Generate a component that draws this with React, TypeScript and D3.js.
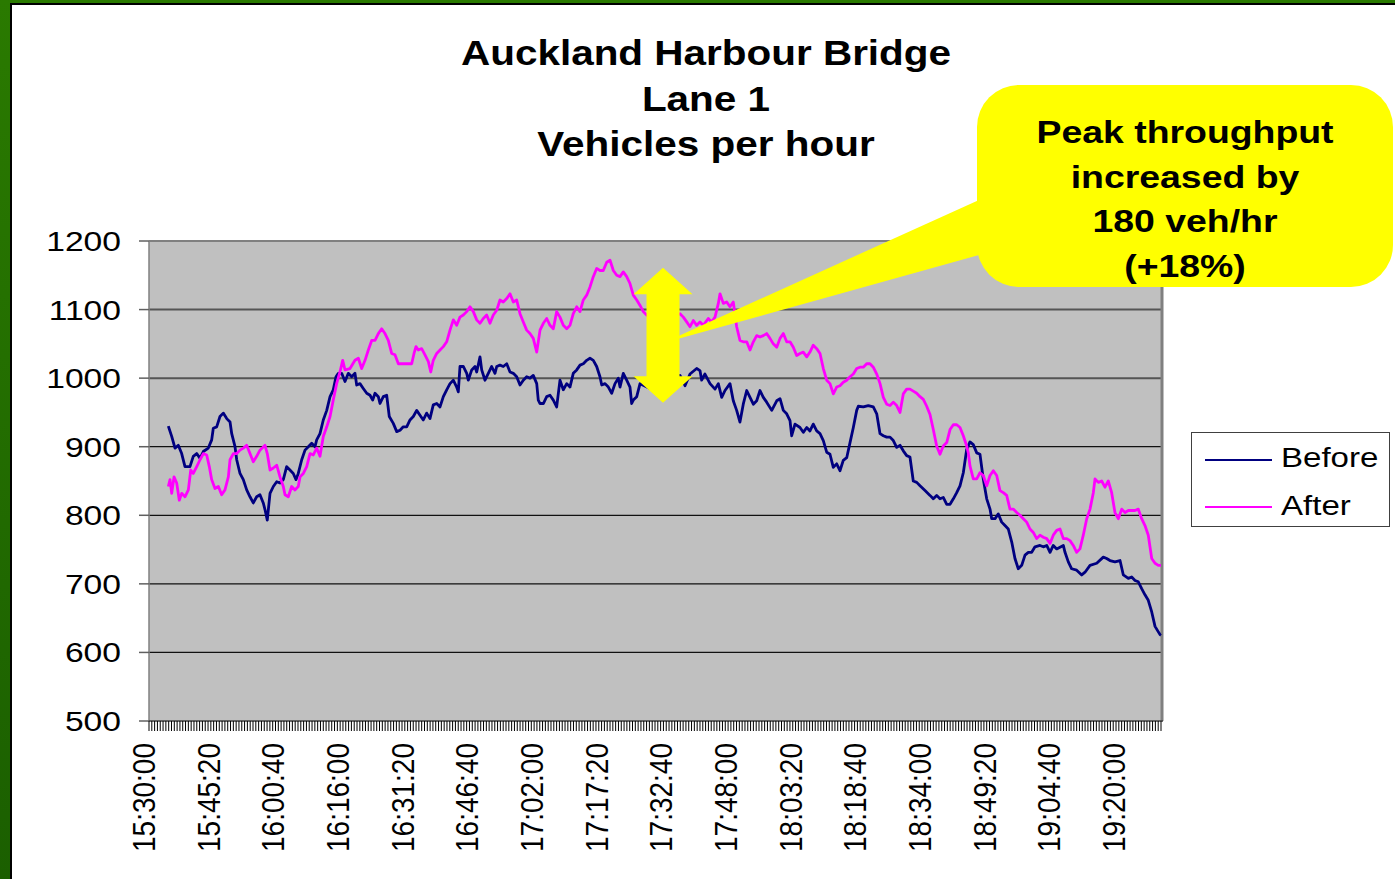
import React from "react";
import * as d3 from "d3";

const W = 1395;
const H = 879;

// ---- data ----
const titleLines = ["Auckland Harbour Bridge", "Lane 1", "Vehicles per hour"];
const calloutLines = ["Peak throughput", "increased by", "180 veh/hr", "(+18%)"];
const seriesNames = ["Before", "After"];
const yTickValues = [500, 600, 700, 800, 900, 1000, 1100, 1200];

const AXIS_START_S = 15 * 3600 + 30 * 60; // 15:30:00
const AXIS_SPAN_S = 4 * 3600; // to 19:30:00
const LABEL_STEP_S = 920; // 15:20 between labels
const TICK_STEP_S = 40;

// [seconds after 15:30:00, vehicles per hour]
const beforeSamples: [number, number][] = [
  [275, 930], [323, 915], [370, 898], [417, 902], [465, 890], [512, 871], [583, 871], [630, 886],
  [679, 890], [726, 883], [773, 893], [844, 898], [892, 910], [915, 927], [963, 929], [1010, 944],
  [1057, 949], [1106, 941], [1153, 936], [1177, 919], [1224, 900], [1248, 881], [1295, 861], [1342, 852],
  [1390, 837], [1437, 827], [1484, 818], [1532, 827], [1579, 830], [1626, 818], [1651, 808], [1683, 793],
  [1722, 832], [1769, 842], [1817, 849], [1864, 847], [1911, 852], [1959, 871], [2006, 866], [2053, 861],
  [2092, 852], [2124, 861], [2173, 881], [2220, 895], [2267, 900], [2315, 905], [2362, 900], [2386, 910],
  [2433, 919], [2480, 939], [2529, 953], [2576, 973], [2622, 983], [2661, 1002], [2694, 1007], [2742, 1007],
  [2789, 995], [2836, 1007], [2884, 1002], [2931, 1007], [2955, 990], [3002, 992], [3049, 985], [3098, 978],
  [3145, 975], [3183, 968], [3216, 978], [3263, 973], [3287, 963], [3334, 973], [3382, 975], [3419, 944],
  [3476, 934], [3525, 922], [3572, 924], [3618, 929], [3667, 929], [3714, 939], [3761, 944], [3809, 953],
  [3856, 946], [3903, 939], [3951, 949], [3998, 941], [4045, 961], [4094, 963], [4141, 958], [4188, 973],
  [4236, 983], [4283, 992], [4330, 997], [4378, 987], [4401, 980], [4425, 1017], [4472, 1017], [4521, 1007],
  [4543, 997], [4592, 1012], [4639, 1017], [4663, 1009], [4710, 1031], [4734, 1012], [4781, 997], [4828, 1007],
  [4876, 1017], [4923, 1007], [4948, 1017], [4994, 1019], [5041, 1017], [5090, 1021], [5137, 1009], [5184, 1007],
  [5232, 1002], [5279, 990], [5326, 997], [5374, 1002], [5421, 1000], [5468, 1004], [5517, 992], [5539, 968],
  [5564, 963], [5611, 963], [5659, 973], [5706, 975], [5753, 968], [5801, 958], [5848, 997], [5895, 983],
  [5944, 992], [5990, 987], [6037, 1007], [6086, 1012], [6133, 1019], [6180, 1021], [6228, 1026], [6275, 1029],
  [6322, 1026], [6370, 1017], [6417, 1002], [6442, 990], [6489, 992], [6536, 987], [6584, 978], [6631, 992],
  [6678, 1000], [6702, 987], [6749, 1007], [6797, 997], [6844, 987], [6868, 963], [6891, 968], [6940, 973],
  [6987, 992], [7129, 985], [7271, 995], [7413, 1000], [7556, 1004], [7627, 989], [7698, 1006], [7793, 1014],
  [7840, 1011], [7864, 997], [7911, 1006], [7983, 992], [8054, 984], [8101, 992], [8149, 972], [8196, 982],
  [8267, 992], [8314, 967], [8362, 953], [8409, 936], [8456, 962], [8505, 982], [8552, 972], [8599, 962],
  [8647, 967], [8694, 982], [8741, 972], [8789, 965], [8861, 953], [8932, 967], [8979, 970], [9026, 953],
  [9074, 948], [9121, 938], [9145, 916], [9192, 933], [9263, 928], [9310, 921], [9359, 928], [9405, 923],
  [9452, 933], [9501, 923], [9548, 919], [9595, 909], [9643, 892], [9690, 889], [9737, 870], [9785, 875],
  [9832, 865], [9879, 880], [9928, 884], [9975, 906], [10022, 928], [10070, 953], [10093, 959], [10164, 958],
  [10235, 960], [10306, 958], [10355, 948], [10402, 919], [10449, 916], [10497, 914], [10544, 914], [10591, 909],
  [10639, 899], [10686, 902], [10733, 894], [10781, 887], [10828, 885], [10875, 850], [10924, 848], [10971, 843],
  [11042, 836], [11113, 829], [11160, 824], [11208, 829], [11255, 824], [11302, 826], [11351, 816], [11398, 816],
  [11445, 824], [11493, 833], [11540, 843], [11587, 862], [11635, 896], [11682, 907], [11729, 903], [11778, 891],
  [11824, 889], [11871, 853], [11920, 824], [11967, 809], [11991, 795], [12038, 795], [12085, 802], [12133, 790],
  [12180, 785], [12227, 780], [12276, 761], [12322, 737], [12369, 722], [12418, 727], [12465, 742], [12512, 746],
  [12560, 746], [12607, 754], [12678, 756], [12725, 754], [12774, 756], [12821, 746], [12867, 756], [12916, 751],
  [13010, 756], [13034, 746], [13081, 732], [13129, 722], [13200, 720], [13272, 713], [13319, 717], [13390, 727],
  [13485, 730], [13579, 739], [13627, 737], [13674, 734], [13745, 732], [13817, 734], [13864, 713], [13935, 708],
  [13983, 710], [14030, 705], [14077, 703], [14125, 693], [14172, 684], [14219, 676], [14268, 659], [14315, 638],
  [14362, 630], [14386, 626], [14400, 625],
];

const afterSamples: [number, number][] = [
  [275, 842], [299, 852], [323, 832], [356, 856], [394, 847], [431, 822], [465, 832], [512, 827],
  [560, 837], [594, 866], [630, 861], [679, 871], [726, 881], [773, 890], [821, 888], [858, 871],
  [892, 852], [939, 839], [987, 842], [1034, 830], [1081, 837], [1129, 856], [1153, 881], [1200, 890],
  [1248, 890], [1295, 895], [1342, 898], [1390, 902], [1437, 890], [1484, 878], [1532, 886], [1579, 895],
  [1651, 902], [1683, 890], [1722, 866], [1769, 869], [1817, 873], [1864, 856], [1911, 842], [1935, 830],
  [1982, 827], [2030, 842], [2077, 837], [2124, 842], [2149, 856], [2196, 861], [2244, 871], [2291, 890],
  [2338, 888], [2386, 898], [2433, 886], [2480, 915], [2529, 929], [2576, 944], [2622, 968], [2670, 992],
  [2717, 1009], [2756, 1026], [2789, 1012], [2860, 1014], [2931, 1026], [2979, 1029], [3026, 1014], [3074, 1026],
  [3121, 1041], [3169, 1055], [3216, 1055], [3263, 1065], [3311, 1072], [3358, 1065], [3405, 1055], [3453, 1036],
  [3500, 1034], [3548, 1021], [3618, 1021], [3714, 1021], [3738, 1021], [3771, 1036], [3799, 1046], [3832, 1041],
  [3880, 1043], [3927, 1034], [3975, 1024], [4009, 1009], [4045, 1026], [4094, 1036], [4141, 1041], [4188, 1046],
  [4236, 1053], [4283, 1070], [4330, 1085], [4378, 1077], [4425, 1089], [4472, 1092], [4521, 1097], [4568, 1104],
  [4615, 1097], [4663, 1085], [4710, 1080], [4757, 1087], [4805, 1092], [4852, 1080], [4899, 1092], [4948, 1099],
  [4994, 1114], [5041, 1111], [5090, 1116], [5137, 1123], [5184, 1111], [5232, 1114], [5279, 1094], [5326, 1082],
  [5374, 1070], [5421, 1065], [5468, 1058], [5517, 1038], [5564, 1070], [5611, 1080], [5659, 1087], [5706, 1077],
  [5753, 1072], [5801, 1097], [5848, 1089], [5895, 1077], [5944, 1072], [5990, 1077], [6037, 1094], [6086, 1104],
  [6133, 1097], [6180, 1114], [6228, 1121], [6275, 1133], [6322, 1148], [6370, 1160], [6417, 1157], [6464, 1157],
  [6513, 1169], [6560, 1172], [6607, 1157], [6655, 1150], [6702, 1148], [6749, 1155], [6797, 1148], [6844, 1138],
  [6891, 1121], [6940, 1114], [6987, 1106], [7033, 1097], [7082, 1092], [7200, 1088], [7342, 1084], [7456, 1090],
  [7556, 1094], [7603, 1089], [7651, 1082], [7698, 1075], [7745, 1084], [7793, 1077], [7840, 1082], [7887, 1077],
  [7958, 1087], [8007, 1082], [8054, 1089], [8101, 1109], [8125, 1123], [8172, 1109], [8220, 1111], [8267, 1104],
  [8314, 1111], [8362, 1075], [8409, 1055], [8456, 1053], [8505, 1053], [8552, 1041], [8599, 1053], [8647, 1062],
  [8694, 1060], [8741, 1062], [8789, 1065], [8836, 1058], [8883, 1050], [8932, 1045], [8979, 1058], [9026, 1065],
  [9074, 1053], [9121, 1053], [9168, 1045], [9216, 1033], [9263, 1036], [9310, 1038], [9359, 1031], [9405, 1038],
  [9452, 1048], [9501, 1043], [9548, 1036], [9595, 1014], [9643, 997], [9690, 992], [9737, 977], [9785, 987],
  [9832, 989], [9879, 994], [9928, 997], [9975, 1002], [10022, 1006], [10070, 1014], [10117, 1016], [10164, 1016],
  [10212, 1021], [10259, 1021], [10306, 1016], [10355, 1006], [10402, 992], [10449, 972], [10497, 962], [10544, 960],
  [10591, 965], [10639, 960], [10686, 950], [10733, 977], [10781, 984], [10828, 984], [10875, 981], [10924, 978],
  [10971, 973], [11018, 969], [11066, 959], [11113, 947], [11160, 925], [11208, 901], [11255, 889], [11302, 901],
  [11351, 906], [11398, 925], [11445, 932], [11493, 932], [11540, 928], [11587, 916], [11635, 901], [11658, 891],
  [11682, 872], [11729, 853], [11778, 853], [11824, 862], [11871, 858], [11920, 843], [11967, 858], [12014, 865],
  [12062, 858], [12109, 836], [12156, 833], [12204, 829], [12251, 809], [12298, 809], [12347, 804], [12394, 800],
  [12441, 795], [12489, 790], [12536, 780], [12583, 775], [12631, 766], [12678, 771], [12725, 768], [12774, 766],
  [12821, 759], [12867, 771], [12916, 778], [12963, 780], [13010, 766], [13058, 766], [13105, 763], [13152, 756],
  [13200, 746], [13247, 751], [13294, 771], [13343, 795], [13390, 809], [13437, 833], [13461, 853], [13508, 848],
  [13556, 850], [13603, 841], [13650, 850], [13698, 833], [13745, 804], [13792, 795], [13841, 809], [13888, 804],
  [13935, 807], [13983, 807], [14030, 807], [14077, 809], [14125, 795], [14172, 785], [14219, 771], [14268, 737],
  [14315, 730], [14362, 727], [14400, 727],
];

// annotation arrow (in data terms)
const ARROW_TIME_S = 7314;
const ARROW_TOP = 1161;
const ARROW_BOTTOM = 964;

// ---- layout ----
const PLOT = { left: 149, right: 1161, top: 241, bottom: 721 };
const SX = 1.18;
const FONT = "'Liberation Sans', Arial, sans-serif";
const NAVY = "#000080";
const MAGENTA = "#FF00FF";
const YELLOW = "#FFFF00";

function fmtClock(s: number) {
  const t = AXIS_START_S + s;
  const h = Math.floor(t / 3600);
  const m = Math.floor((t % 3600) / 60);
  const sec = t % 60;
  const p = (n: number) => String(n).padStart(2, "0");
  return `${h}:${p(m)}:${p(sec)}`;
}

export default function App() {
  const x = d3.scaleLinear().domain([0, AXIS_SPAN_S]).range([PLOT.left, PLOT.right]);
  const y = d3.scaleLinear().domain([500, 1200]).range([PLOT.bottom, PLOT.top]);

  const line = d3
    .line<[number, number]>()
    .x((d) => x(d[0]))
    .y((d) => y(d[1]));

  const minorTicks = d3.range(0, AXIS_SPAN_S + 1, TICK_STEP_S);
  const labelTicks = d3.range(0, AXIS_SPAN_S, LABEL_STEP_S);

  // arrow geometry
  const ax = x(ARROW_TIME_S);
  const aTop = y(ARROW_TOP);
  const aBot = y(ARROW_BOTTOM);
  const shaftHW = 16.5;
  const headHW = 29.5;
  const headH = 26.5;
  const arrowPath = [
    [ax, aTop],
    [ax + headHW, aTop + headH],
    [ax + shaftHW, aTop + headH],
    [ax + shaftHW, aBot - headH],
    [ax + headHW, aBot - headH],
    [ax, aBot],
    [ax - headHW, aBot - headH],
    [ax - shaftHW, aBot - headH],
    [ax - shaftHW, aTop + headH],
    [ax - headHW, aTop + headH],
  ];

  // callout
  const cb = { x: 977, y: 85, w: 416, h: 202, r: 42 };
  const tip = [ax, 343];
  const wedge = [
    [cb.x + 2, 200],
    tip,
    [cb.x + 2, 255],
  ];

  const stretched = (tx: number, ty: number) => `translate(${tx},${ty}) scale(${SX},1)`;

  return (
    <svg
      width={W}
      height={H}
      style={{ position: "absolute", left: 0, top: 0, display: "block" }}
      fontFamily={FONT}
    >
      <defs>
        <linearGradient id="green" x1="0" y1="0" x2="0" y2="1">
          <stop offset="0" stopColor="#2a7a00" />
          <stop offset="1" stopColor="#1b5f00" />
        </linearGradient>
      </defs>
      <rect x={0} y={0} width={W} height={H} fill="url(#green)" />
      <rect x={10} y={3} width={W} height={H} fill="#000" />
      <rect x={12} y={5} width={W} height={H} fill="#fff" />

      {/* title */}
      {titleLines.map((t, i) => (
        <text
          key={t}
          transform={stretched(706, 65 + i * 45.5)}
          textAnchor="middle"
          fontWeight="bold"
          fontSize={34.3}
          fill="#000"
        >
          {t}
        </text>
      ))}

      {/* plot area */}
      <rect
        x={PLOT.left}
        y={PLOT.top}
        width={PLOT.right - PLOT.left}
        height={PLOT.bottom - PLOT.top}
        fill="#C0C0C0"
      />
      {yTickValues
        .filter((v) => v > 500 && v < 1200)
        .map((v) => (
          <line
            key={v}
            x1={PLOT.left}
            x2={PLOT.right}
            y1={y(v)}
            y2={y(v)}
            stroke={v >= 1000 ? "#555" : "#111"}
            strokeWidth={v >= 1000 ? 2 : 1.3}
          />
        ))}
      <line x1={PLOT.left} x2={PLOT.right + 2} y1={PLOT.top} y2={PLOT.top} stroke="#808080" strokeWidth={2} />
      <line x1={PLOT.right + 1} x2={PLOT.right + 1} y1={PLOT.top} y2={PLOT.bottom} stroke="#808080" strokeWidth={3} />

      {/* series */}
      <path d={line(beforeSamples) || ""} fill="none" stroke={NAVY} strokeWidth={2.8} strokeLinejoin="round" />
      <path d={line(afterSamples) || ""} fill="none" stroke={MAGENTA} strokeWidth={2.8} strokeLinejoin="round" />

      {/* axes */}
      <line x1={PLOT.left} x2={PLOT.left} y1={PLOT.top} y2={PLOT.bottom} stroke="#808080" strokeWidth={1.5} />
      {yTickValues.map((v) => (
        <g key={v}>
          <line x1={PLOT.left - 10} x2={PLOT.left} y1={y(v)} y2={y(v)} stroke="#606060" strokeWidth={1.5} />
          <text transform={stretched(121, y(v) + 10)} textAnchor="end" fontSize={28.5} fill="#000">
            {v}
          </text>
        </g>
      ))}
      <line x1={PLOT.left} x2={PLOT.right + 2} y1={PLOT.bottom} y2={PLOT.bottom} stroke="#404040" strokeWidth={1.5} />
      {minorTicks.map((t) => (
        <line key={t} x1={x(t)} x2={x(t)} y1={PLOT.bottom} y2={PLOT.bottom + 10} stroke="#000" strokeWidth={1} />
      ))}
      {labelTicks.map((t) => (
        <text
          key={t}
          transform={`translate(${x(t) + 6},743) scale(1.12,1) rotate(-90)`}
          textAnchor="end"
          fontSize={28}
          fill="#000"
        >
          {fmtClock(t)}
        </text>
      ))}

      {/* legend */}
      <rect x={1191.5} y={432.5} width={198} height={94} fill="#fff" stroke="#404040" strokeWidth={1} />
      {seriesNames.map((n, i) => (
        <g key={n}>
          <line x1={1205} x2={1272} y1={460 + i * 47} y2={460 + i * 47} stroke={i === 0 ? NAVY : MAGENTA} strokeWidth={2} />
          <text transform={stretched(1281, 467 + i * 48)} fontSize={28} fill="#000">
            {n}
          </text>
        </g>
      ))}

      {/* callout */}
      <rect x={cb.x} y={cb.y} width={cb.w} height={cb.h} rx={cb.r} ry={cb.r} fill={YELLOW} />
      <polygon points={wedge.map((p) => p.join(",")).join(" ")} fill={YELLOW} />
      <polygon points={arrowPath.map((p) => p.join(",")).join(" ")} fill={YELLOW} />
      {calloutLines.map((t, i) => (
        <text
          key={t}
          transform={stretched(1185, 143 + i * 44.7)}
          textAnchor="middle"
          fontWeight="bold"
          fontSize={31.7}
          fill="#000"
        >
          {t}
        </text>
      ))}
    </svg>
  );
}
